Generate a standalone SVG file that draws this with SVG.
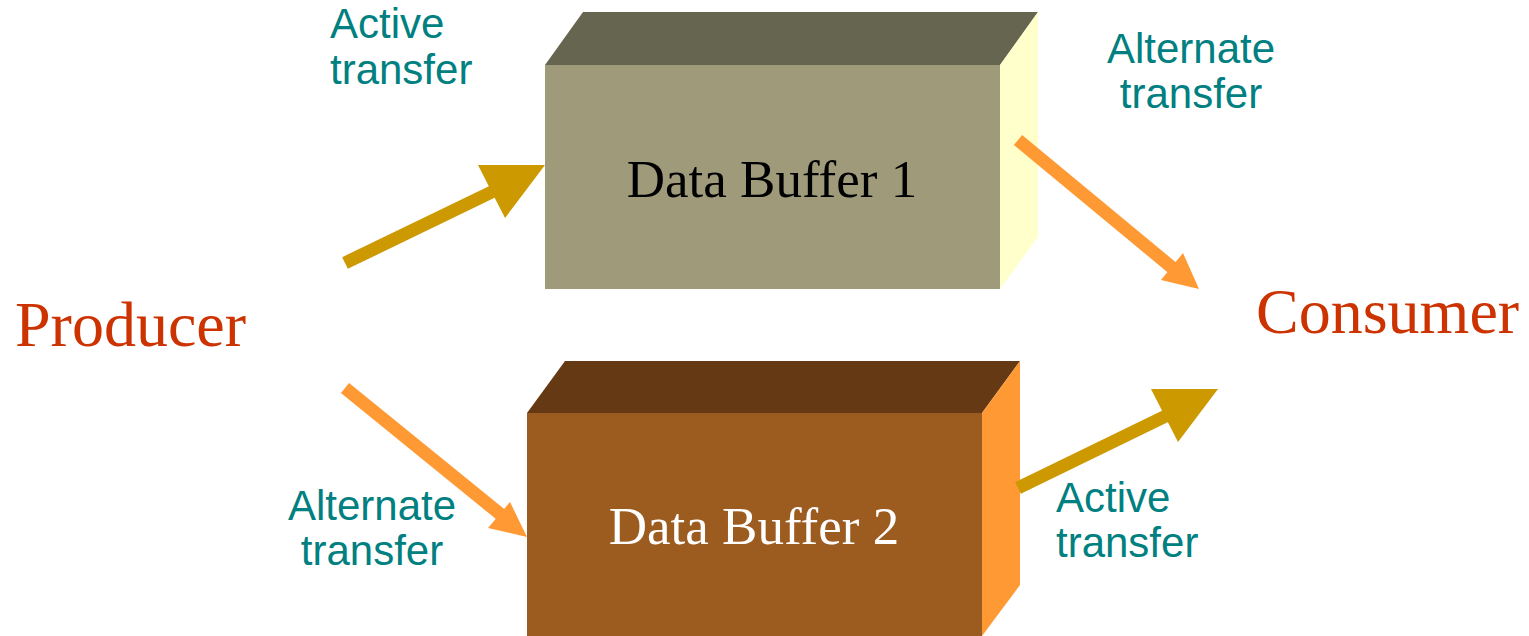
<svg xmlns="http://www.w3.org/2000/svg" width="1529" height="636" viewBox="0 0 1529 636">
  <style>
    .role { font-family: "Liberation Serif", "Times New Roman", serif; font-size: 64px; fill: #CC3300; }
    .buf { font-family: "Liberation Serif", "Times New Roman", serif; font-size: 53px; text-anchor: middle; }
    .lbl { font-family: "Liberation Sans", Arial, sans-serif; font-size: 42px; fill: #008080; }
    .mid { text-anchor: middle; }
    .gold { fill: #CC9900; }
    .orange { fill: #FF9933; }
    .shaft-gold { stroke: #CC9900; stroke-width: 13; }
    .shaft-orange { stroke: #FF9933; stroke-width: 13; }
  </style>
  <rect width="1529" height="636" fill="#FFFFFF"/>

  <!-- Producer / Consumer -->
  <g id="producer">
    <text class="role" x="15" y="346">Producer</text>
  </g>
  <g id="consumer">
    <text class="role" x="1256" y="333">Consumer</text>
  </g>

  <!-- Data Buffer 1: 3D box -->
  <g id="buffer1">
    <polygon points="545,65 583,12 1038,12 1000,65" fill="#656550"/>
    <polygon points="1000,65 1038,12 1038,237 1000,289" fill="#FFFFCC"/>
    <rect x="545" y="65" width="455" height="224" fill="#9E9A7A"/>
    <text class="buf" x="772" y="197" fill="#000000">Data Buffer 1</text>
  </g>

  <!-- Data Buffer 2: 3D box -->
  <g id="buffer2">
    <polygon points="527,413 565,361 1020,361 982,413" fill="#643914"/>
    <polygon points="982,413 1020,361 1020,585 982,636" fill="#FF9933"/>
    <rect x="527" y="413" width="455" height="223" fill="#9C5C20"/>
    <text class="buf" x="754" y="544" fill="#FFFFFF">Data Buffer 2</text>
  </g>

  <!-- Transfer labels -->
  <g id="label-active-top">
    <text class="lbl" x="330" y="38">Active</text>
    <text class="lbl" x="330" y="84">transfer</text>
  </g>
  <g id="label-alternate-top">
    <text class="lbl mid" x="1191" y="63">Alternate</text>
    <text class="lbl mid" x="1191" y="108">transfer</text>
  </g>
  <g id="label-alternate-bottom">
    <text class="lbl mid" x="372" y="520">Alternate</text>
    <text class="lbl mid" x="372" y="565">transfer</text>
  </g>
  <g id="label-active-bottom">
    <text class="lbl" x="1056" y="512">Active</text>
    <text class="lbl" x="1056" y="557">transfer</text>
  </g>

  <!-- Transfer arrows -->
  <g id="connectors">
    <line class="shaft-gold" x1="345" y1="263" x2="500" y2="188"/>
    <polygon class="gold" points="478,165 545,165 505,218"/>

    <line class="shaft-orange" x1="1018" y1="140" x2="1175" y2="270"/>
    <polygon class="orange" points="1183,253 1199,289 1161,280"/>

    <line class="shaft-orange" x1="345" y1="388" x2="505" y2="518"/>
    <polygon class="orange" points="510,502 527,537 488,528"/>

    <line class="shaft-gold" x1="1018" y1="488" x2="1172" y2="413"/>
    <polygon class="gold" points="1151,389 1218,389 1178,442"/>
  </g>
</svg>
